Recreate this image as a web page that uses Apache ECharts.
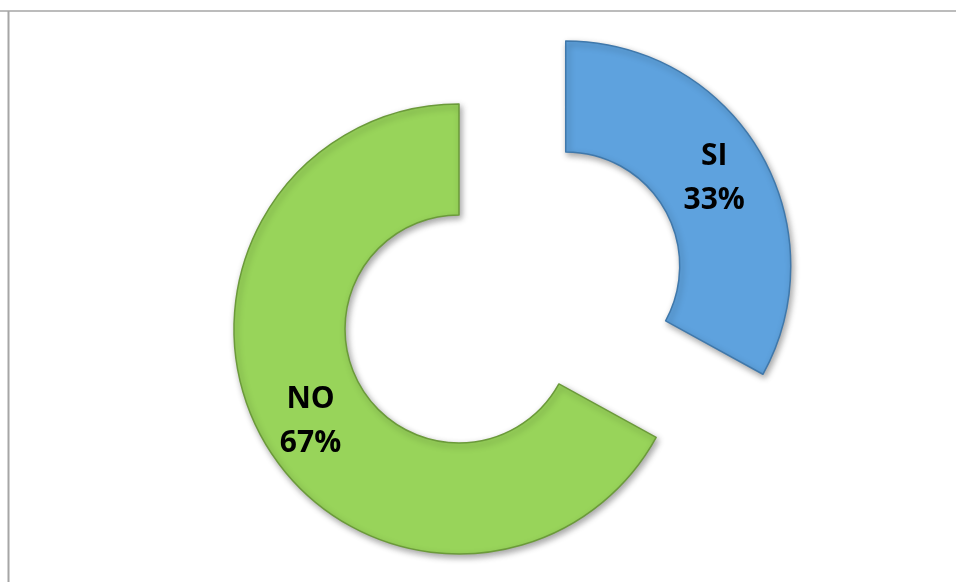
<!DOCTYPE html>
<html>
<head>
<meta charset="utf-8">
<script src="https://cdn.jsdelivr.net/npm/echarts@6/dist/echarts.min.js"></script>
<style>
html,body{margin:0;padding:0;background:#fff;}
#chart{width:956px;height:582px;}
</style>
</head>
<body>
<div id="chart"></div>
<script>
var categories = ['SI', 'NO'];
var values = [33, 67];
var colors = ['#5ea2de', '#98d45a'];
var borderColors = ['#3f78ab', '#6b9a3a'];
var selectedFlags = [true, false];

var chart = echarts.init(document.getElementById('chart'), null, {renderer: 'canvas'});

var data = categories.map(function (c, i) {
  return {
    name: c,
    value: values[i],
    selected: selectedFlags[i],
    itemStyle: {
      color: colors[i],
      borderColor: borderColors[i],
      borderWidth: 1.5,
      shadowColor: 'rgba(0,0,0,0.35)',
      shadowBlur: 6,
      shadowOffsetX: 2,
      shadowOffsetY: 3
    }
  };
});

chart.setOption({
  animation: false,
  backgroundColor: '#ffffff',
  graphic: [
    {type: 'line', shape: {x1: 0, y1: 11, x2: 956, y2: 11}, style: {stroke: '#a6a6a6', lineWidth: 1.5}, silent: true},
    {type: 'line', shape: {x1: 8.5, y1: 11, x2: 8.5, y2: 582}, style: {stroke: '#a6a6a6', lineWidth: 2}, silent: true}
  ],
  series: [{
    type: 'pie',
    center: [459, 329],
    radius: [114, 225],
    startAngle: 90,
    clockwise: true,
    selectedMode: 'single',
    selectedOffset: 124,
    avoidLabelOverlap: false,
    label: {
      show: true,
      position: 'inside',
      formatter: function (p) { return p.name + '\n' + Math.round(p.percent) + '%'; },
      color: '#000000',
      fontFamily: 'Open Sans',
      fontWeight: 'bold',
      fontSize: 30,
      lineHeight: 44,
      offset: [0, 5]
    },
    labelLine: {show: false},
    emphasis: {scale: false, disabled: true},
    data: data
  }]
});
</script>
</body>
</html>
